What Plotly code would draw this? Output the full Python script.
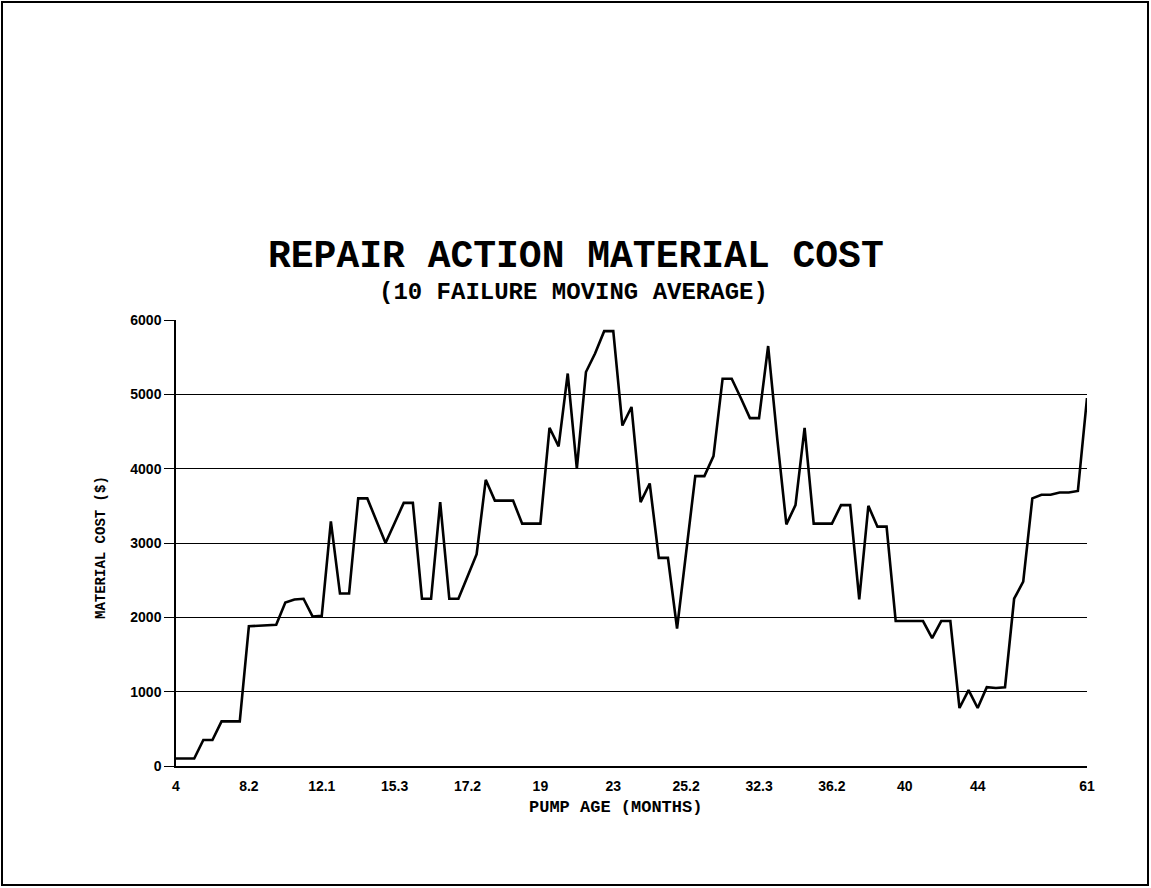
import plotly.graph_objects as go

# ---- data ----
cost_values = [
    100, 100, 100, 350, 350, 600, 600, 600, 1880, 1890,
    1895, 1900, 2200, 2240, 2250, 2010, 2020, 3290, 2320, 2320,
    3600, 3600, 3300, 3000, 3270, 3540, 3540, 2250, 2250, 3550,
    2250, 2250, 2550, 2850, 3850, 3570, 3570, 3570, 3260, 3260,
    3260, 4550, 4300, 5280, 4000, 5300, 5550, 5850, 5850, 4580,
    4830, 3550, 3800, 2800, 2800, 1850, 2880, 3900, 3900, 4170,
    5210, 5210, 4950, 4680, 4680, 5650, 4400, 3250, 3510, 4550,
    3260, 3260, 3260, 3510, 3510, 2240, 3500, 3220, 3220, 1950,
    1950, 1950, 1950, 1720, 1950, 1950, 780, 1020, 780, 1060,
    1050, 1060, 2250, 2480, 3600, 3650, 3650, 3680, 3680, 3700,
    4950,
]
age_tick_labels = ["4", "8.2", "12.1", "15.3", "17.2", "19", "23",
                   "25.2", "32.3", "36.2", "40", "44", "61"]
label_every = 8
y_ticks = [0, 1000, 2000, 3000, 4000, 5000, 6000]

n = len(cost_values)
x_idx = list(range(n))
# every 8th point is labelled, plus the last point
tick_pos = list(range(0, n - 8, label_every)) + [n - 1]

# ---- layout geometry ----
W, H = 1151, 888
L, R, T, B = 176, 64, 320, 122
PW, PH = W - L - R, H - T - B

def px(xp):
    return (xp - L) / PW

def py(yp):
    return (H - B - yp) / PH

mono = "Liberation Mono"
sans = "Liberation Sans"

fig = go.Figure()
fig.add_trace(go.Scatter(
    x=x_idx, y=cost_values, mode="lines",
    line=dict(color="black", width=2.6),
    hoverinfo="skip", showlegend=False,
))

fig.update_layout(
    width=W, height=H,
    margin=dict(l=L, r=R, t=T, b=B),
    paper_bgcolor="white", plot_bgcolor="white",
    showlegend=False,
    xaxis=dict(
        range=[0, n - 1], tickmode="array", tickvals=tick_pos,
        ticktext=age_tick_labels, showgrid=False, zeroline=False,
        showline=True, linecolor="black", linewidth=1.5,
        ticks="", ticklabelstandoff=6,
        tickfont=dict(family=sans, size=14, color="black", weight="bold"),
    ),
    yaxis=dict(
        range=[0, 6000], tickmode="array", tickvals=y_ticks,
        showgrid=True, gridcolor="black", gridwidth=1, zeroline=False,
        showline=True, linecolor="black", linewidth=1.5,
        ticks="outside", ticklen=10, tickcolor="black", tickwidth=1,
        tickfont=dict(family=sans, size=14, color="black", weight="bold"),
    ),
    annotations=[
        dict(text="REPAIR ACTION MATERIAL COST", xref="paper", yref="paper",
             x=px(576), y=py(257), xanchor="center", yanchor="middle",
             showarrow=False,
             font=dict(family=mono, size=38, color="black", weight="bold")),
        dict(text="(10 FAILURE MOVING AVERAGE)", xref="paper", yref="paper",
             x=px(573), y=py(292), xanchor="center", yanchor="middle",
             showarrow=False,
             font=dict(family=mono, size=24, color="black", weight="bold")),
        dict(text="MATERIAL COST ($)", xref="paper", yref="paper",
             x=px(101), y=py(548), xanchor="center", yanchor="middle",
             textangle=-90, showarrow=False,
             font=dict(family=mono, size=14, color="black", weight="bold")),
        dict(text="PUMP AGE (MONTHS)", xref="paper", yref="paper",
             x=px(615), y=py(807), xanchor="center", yanchor="middle",
             showarrow=False,
             font=dict(family=mono, size=17, color="black", weight="bold")),
    ],
    shapes=[
        dict(type="rect", xref="paper", yref="paper",
             x0=px(2), x1=px(1148), y0=py(885), y1=py(2),
             line=dict(color="black", width=2), fillcolor="rgba(0,0,0,0)",
             layer="below"),
    ],
)

fig.write_html(
    "out.html",
    config={"displayModeBar": False},
    post_script="document.body.style.margin='0px';"
                "document.body.style.overflow='hidden';",
)
